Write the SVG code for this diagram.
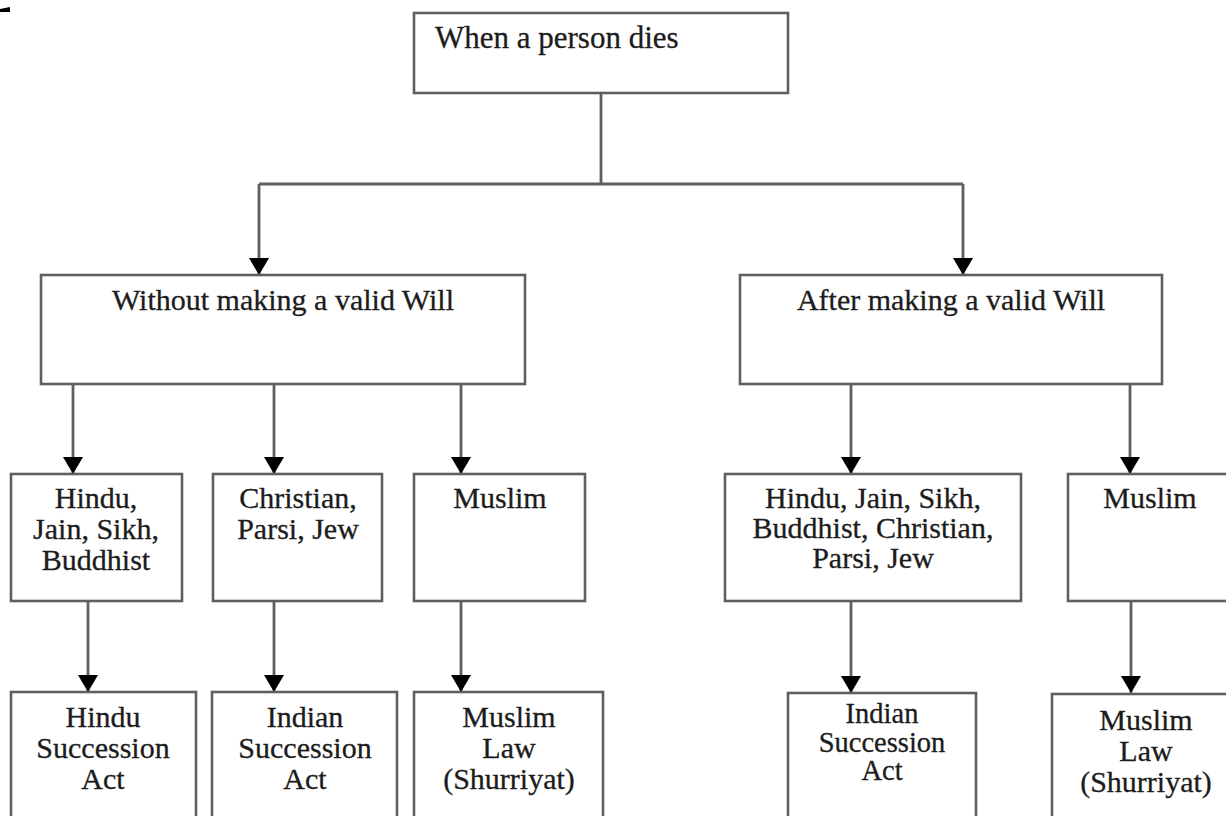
<svg xmlns="http://www.w3.org/2000/svg" width="1226" height="816" viewBox="0 0 1226 816">
<style>
.box{fill:#fff;stroke:#5f5f5f;stroke-width:2.6}
.ln{fill:none;stroke:#5f5f5f;stroke-width:2.8}
.t{font-family:"Liberation Serif","Times New Roman",serif;font-size:30px;fill:#1c1c1c;stroke:#1c1c1c;stroke-width:0.3}
.c{text-anchor:middle}
.s{font-size:28.5px}
</style>
<defs>
<marker id="ah" viewBox="0 0 17 20" refX="17" refY="10" markerWidth="17" markerHeight="20" markerUnits="userSpaceOnUse" orient="auto">
<path d="M0,0 L17,10 L0,20 Z" fill="#000"/>
</marker>
</defs>
<rect width="1226" height="816" fill="#fff"/>
<polygon points="0,9 10,7 10,12 0,12" fill="#000"/>
<g id="connectors">
<path class="ln" d="M601,93 V184"/>
<path class="ln" d="M259,184 H963"/>
<path class="ln" d="M259,184 V275" marker-end="url(#ah)"/>
<path class="ln" d="M963,184 V275" marker-end="url(#ah)"/>
<path class="ln" d="M73,384 V474" marker-end="url(#ah)"/>
<path class="ln" d="M274,384 V474" marker-end="url(#ah)"/>
<path class="ln" d="M461,384 V474" marker-end="url(#ah)"/>
<path class="ln" d="M851,384 V474" marker-end="url(#ah)"/>
<path class="ln" d="M1130,384 V474" marker-end="url(#ah)"/>
<path class="ln" d="M88,601 V692" marker-end="url(#ah)"/>
<path class="ln" d="M274,601 V692" marker-end="url(#ah)"/>
<path class="ln" d="M461,601 V692" marker-end="url(#ah)"/>
<path class="ln" d="M851,601 V693" marker-end="url(#ah)"/>
<path class="ln" d="M1131,601 V693" marker-end="url(#ah)"/>
</g>
<g id="root">
<rect class="box" x="414" y="13" width="374" height="80"/>
<text class="t" x="435" y="48" style="font-size:31px">When a person dies</text>
</g>
<g id="without-will">
<rect class="box" x="41" y="275" width="484" height="109"/>
<text class="t c" x="283" y="310">Without making a valid Will</text>
</g>
<g id="after-will">
<rect class="box" x="740" y="275" width="422" height="109"/>
<text class="t c" x="951" y="310">After making a valid Will</text>
</g>
<g id="hindu-intestate">
<rect class="box" x="11" y="474" width="171" height="127"/>
<text class="t c" x="96" y="508">Hindu,</text>
<text class="t c" x="96" y="539">Jain, Sikh,</text>
<text class="t c" x="96" y="570">Buddhist</text>
</g>
<g id="christian-intestate">
<rect class="box" x="213" y="474" width="169" height="127"/>
<text class="t c" x="298" y="508">Christian,</text>
<text class="t c" x="298" y="539">Parsi, Jew</text>
</g>
<g id="muslim-intestate">
<rect class="box" x="414" y="474" width="171" height="127"/>
<text class="t c" x="500" y="508">Muslim</text>
</g>
<g id="others-will">
<rect class="box" x="725" y="474" width="296" height="127"/>
<text class="t c" x="873" y="508">Hindu, Jain, Sikh,</text>
<text class="t c" x="873" y="538">Buddhist, Christian,</text>
<text class="t c" x="873" y="568">Parsi, Jew</text>
</g>
<g id="muslim-will">
<rect class="box" x="1068" y="474" width="170" height="127"/>
<text class="t c" x="1150" y="508">Muslim</text>
</g>
<g id="hindu-succession-act">
<rect class="box" x="11" y="692" width="185" height="140"/>
<text class="t c" x="103" y="727">Hindu</text>
<text class="t c" x="103" y="758">Succession</text>
<text class="t c" x="103" y="789">Act</text>
</g>
<g id="indian-succession-act-1">
<rect class="box" x="212" y="692" width="185" height="140"/>
<text class="t c" x="305" y="727">Indian</text>
<text class="t c" x="305" y="758">Succession</text>
<text class="t c" x="305" y="789">Act</text>
</g>
<g id="muslim-law-1">
<rect class="box" x="414" y="692" width="189" height="140"/>
<text class="t c" x="509" y="727">Muslim</text>
<text class="t c" x="509" y="758">Law</text>
<text class="t c" x="509" y="789">(Shurriyat)</text>
</g>
<g id="indian-succession-act-2">
<rect class="box" x="788" y="693" width="188" height="140"/>
<text class="t c s" x="882" y="723">Indian</text>
<text class="t c s" x="882" y="752">Succession</text>
<text class="t c s" x="882" y="780">Act</text>
</g>
<g id="muslim-law-2">
<rect class="box" x="1052" y="694" width="186" height="140"/>
<text class="t c" x="1146" y="730">Muslim</text>
<text class="t c" x="1146" y="761">Law</text>
<text class="t c" x="1146" y="792">(Shurriyat)</text>
</g>
</svg>
